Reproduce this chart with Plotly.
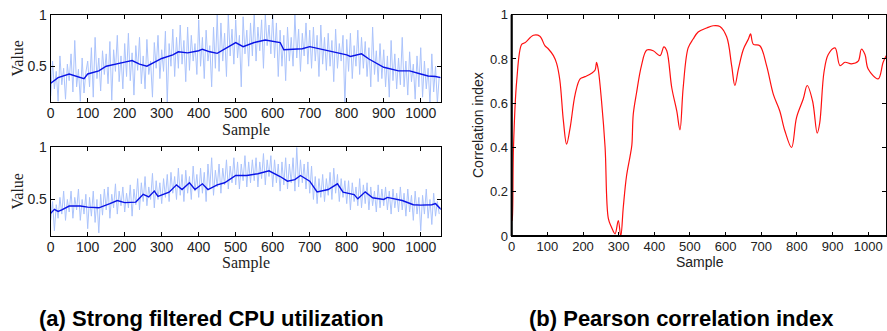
import plotly.graph_objects as go

# ---------------- data ----------------
raw_x = list(range(0, 1051, 5))

top_raw = [
    0.21, 0.55, 0.28, 0.45, 0.16, 0.60, 0.32, 0.48, 0.18, 0.52,
    0.36, 0.62, 0.25, 0.75, 0.30, 0.47, 0.16, 0.58, 0.24, 0.44,
    0.55, 0.30, 0.68, 0.20, 0.78, 0.38, 0.58, 0.26, 0.65, 0.42,
    0.62, 0.33, 0.74, 0.17, 0.66, 0.45, 0.80, 0.35, 0.60, 0.28,
    0.72, 0.40, 0.82, 0.36, 0.63, 0.22, 0.70, 0.46, 0.78, 0.33,
    0.60, 0.28, 0.76, 0.42, 0.55, 0.20, 0.73, 0.48, 0.80, 0.38,
    0.66, 0.45, 0.84, 0.14, 0.72, 0.50, 0.86, 0.40, 0.78, 0.48,
    0.90, 0.52, 0.75, 0.35, 0.88, 0.46, 0.80, 0.55, 0.72, 0.42,
    0.95, 0.50, 0.78, 0.38, 0.85, 0.55, 0.70, 0.30, 0.88, 0.48,
    1.00, 0.45, 0.92, 0.55, 0.82, 0.40, 1.00, 0.60, 0.86, 0.52,
    0.95, 0.58, 0.80, 0.30, 0.98, 0.62, 0.85, 0.50, 0.92, 0.60,
    1.00, 0.55, 0.88, 0.65, 0.95, 0.48, 1.00, 0.70, 0.90, 0.62,
    1.00, 0.58, 0.92, 0.40, 0.85, 0.50, 0.80, 0.36, 0.88, 0.55,
    0.78, 0.50, 1.00, 0.58, 0.86, 0.45, 0.82, 0.60, 0.92, 0.52,
    0.85, 0.48, 0.88, 0.55, 0.80, 0.40, 0.90, 0.52, 0.78, 0.46,
    0.82, 0.50, 0.75, 0.35, 0.86, 0.48, 0.72, 0.55, 0.80, 0.12,
    0.76, 0.45, 0.82, 0.38, 0.70, 0.50, 0.85, 0.42, 0.78, 0.48,
    0.74, 0.40, 0.68, 0.30, 0.88, 0.42, 0.65, 0.35, 0.72, 0.38,
    0.66, 0.30, 0.60, 0.20, 0.75, 0.36, 0.62, 0.28, 0.58, 0.32,
    0.78, 0.30, 0.55, 0.22, 0.64, 0.35, 0.52, 0.18, 0.60, 0.30,
    0.68, 0.20, 0.55, 0.28, 0.48, 0.13, 0.62, 0.25, 0.50, 0.14,
    0.40,
]

top_smooth_x = [0, 20, 50, 90, 100, 130, 150, 180, 200, 220, 240, 260, 300, 330,
                345, 370, 400, 410, 430, 450, 470, 500, 520, 550, 580, 600, 620,
                630, 680, 700, 740, 770, 800, 810, 840, 860, 900, 940, 970, 1000,
                1020, 1040, 1054]
top_smooth = [0.335, 0.39, 0.425, 0.38, 0.425, 0.455, 0.50, 0.52, 0.54, 0.555,
              0.52, 0.50, 0.575, 0.61, 0.64, 0.63, 0.65, 0.665, 0.64, 0.625,
              0.67, 0.73, 0.69, 0.73, 0.755, 0.74, 0.73, 0.66, 0.67, 0.69,
              0.66, 0.635, 0.61, 0.595, 0.62, 0.57, 0.49, 0.455, 0.455, 0.425,
              0.405, 0.40, 0.39]

bottom_raw = [
    0.30, 0.48, 0.20, 0.45, 0.32, 0.52, 0.36, 0.58, 0.30, 0.50,
    0.38, 0.58, 0.32, 0.52, 0.40, 0.60, 0.30, 0.50, 0.36, 0.55,
    0.22, 0.52, 0.34, 0.58, 0.28, 0.50, 0.18, 0.55, 0.35, 0.60,
    0.40, 0.62, 0.32, 0.55, 0.42, 0.65, 0.36, 0.58, 0.44, 0.62,
    0.38, 0.56, 0.42, 0.64, 0.34, 0.60, 0.45, 0.70, 0.40, 0.66,
    0.48, 0.72, 0.44, 0.62, 0.50, 0.75, 0.42, 0.68, 0.50, 0.66,
    0.46, 0.70, 0.52, 0.74, 0.48, 0.76, 0.56, 0.72, 0.50, 0.80,
    0.54, 0.74, 0.48, 0.78, 0.56, 0.72, 0.50, 0.82, 0.58, 0.74,
    0.52, 0.80, 0.56, 0.76, 0.48, 0.84, 0.60, 0.90, 0.54, 0.78,
    0.62, 0.84, 0.56, 0.80, 0.64, 0.88, 0.60, 0.82, 0.66, 0.90,
    0.64, 0.86, 0.60, 0.84, 0.68, 0.92, 0.62, 0.86, 0.66, 0.88,
    0.68, 0.90, 0.62, 0.86, 0.70, 0.94, 0.64, 0.88, 0.72, 0.92,
    0.62, 0.88, 0.66, 0.84, 0.58, 0.86, 0.64, 0.90, 0.60, 0.84,
    0.66, 0.90, 0.58, 1.00, 0.62, 0.88, 0.66, 0.84, 0.60, 0.86,
    0.56, 0.82, 0.50, 0.72, 0.46, 0.70, 0.52, 0.74, 0.48, 0.70,
    0.54, 0.76, 0.50, 0.80, 0.56, 0.74, 0.48, 0.70, 0.52, 0.68,
    0.46, 0.68, 0.40, 0.66, 0.48, 0.62, 0.44, 0.70, 0.42, 0.64,
    0.46, 0.66, 0.40, 0.62, 0.44, 0.58, 0.38, 0.64, 0.42, 0.60,
    0.44, 0.62, 0.40, 0.58, 0.36, 0.60, 0.42, 0.56, 0.38, 0.62,
    0.40, 0.56, 0.34, 0.60, 0.38, 0.54, 0.30, 0.58, 0.36, 0.52,
    0.20, 0.54, 0.36, 0.60, 0.32, 0.50, 0.26, 0.56, 0.34, 0.48,
    0.36,
]

bottom_smooth_x = [0, 10, 20, 30, 50, 80, 100, 130, 160, 180, 200, 230, 250, 265,
                   280, 290, 320, 340, 355, 375, 390, 410, 425, 450, 470, 500,
                   530, 560, 590, 620, 640, 660, 675, 700, 720, 750, 775, 790,
                   820, 830, 850, 870, 900, 910, 950, 980, 1000, 1030, 1040, 1055]
bottom_smooth = [0.367, 0.405, 0.386, 0.40, 0.437, 0.437, 0.427, 0.42, 0.46, 0.49,
                 0.47, 0.475, 0.55, 0.525, 0.58, 0.53, 0.57, 0.64, 0.595, 0.66,
                 0.595, 0.65, 0.595, 0.64, 0.66, 0.73, 0.73, 0.747, 0.775, 0.72,
                 0.675, 0.69, 0.73, 0.675, 0.573, 0.595, 0.65, 0.57, 0.547, 0.506,
                 0.573, 0.516, 0.50, 0.52, 0.49, 0.45, 0.446, 0.45, 0.46, 0.405]

corr_x = [0, 2, 5, 14, 28, 37, 61, 79, 93, 103, 117, 126, 135, 145, 154, 164, 178,
          192, 206, 224, 234, 238, 243, 252, 262, 271, 280, 290, 299, 306, 313,
          322, 332, 337, 341, 350, 364, 379, 397, 416, 427, 435, 449, 463, 472,
          481, 495, 509, 523, 547, 565, 584, 603, 617, 626, 636, 650, 664, 670,
          678, 696, 715, 734, 752, 766, 785, 799, 818, 829, 844, 857, 864, 876,
          888, 907, 921, 935, 953, 972, 981, 991, 1000, 1028, 1042, 1051]
corr = [0.10, 0.07, 0.40, 0.70, 0.866, 0.873, 0.907, 0.903, 0.86, 0.845, 0.815,
        0.78, 0.705, 0.52, 0.415, 0.49, 0.64, 0.71, 0.72, 0.735, 0.75, 0.785,
        0.75, 0.61, 0.40, 0.08, 0.04, 0.01, 0.07, 0.0, 0.13, 0.27, 0.36, 0.41,
        0.55, 0.645, 0.77, 0.84, 0.837, 0.815, 0.855, 0.837, 0.67, 0.565, 0.48,
        0.67, 0.85, 0.89, 0.922, 0.94, 0.95, 0.947, 0.90, 0.77, 0.68, 0.755,
        0.844, 0.89, 0.913, 0.866, 0.86, 0.77, 0.64, 0.565, 0.477, 0.40, 0.535,
        0.62, 0.68, 0.61, 0.465, 0.51, 0.74, 0.82, 0.85, 0.77, 0.785, 0.778,
        0.79, 0.844, 0.82, 0.755, 0.71, 0.785, 0.815]

x_ticks = [0, 100, 200, 300, 400, 500, 600, 700, 800, 900, 1000]
left_y_ticks = [0.5, 1]
left_y_ticktext = ["0.5", "1"]
right_y_ticks = [0, 0.2, 0.4, 0.6, 0.8, 1]
right_y_ticktext = ["0", "0.2", "0.4", "0.6", "0.8", "1"]

caption_a = "(a) Strong filtered CPU utilization"
caption_b = "(b) Pearson correlation index"

# ---------------- figure ----------------
W, H = 887, 331
LIGHT = "#abc3fb"
DARK = "#0a14e6"

fig = go.Figure()
fig.add_trace(go.Scatter(x=raw_x, y=top_raw, mode="lines",
                         line=dict(color=LIGHT, width=1), xaxis="x", yaxis="y"))
fig.add_trace(go.Scatter(x=top_smooth_x, y=top_smooth, mode="lines",
                         line=dict(color=DARK, width=1.4), xaxis="x", yaxis="y"))
fig.add_trace(go.Scatter(x=raw_x, y=bottom_raw, mode="lines",
                         line=dict(color=LIGHT, width=1), xaxis="x2", yaxis="y2"))
fig.add_trace(go.Scatter(x=bottom_smooth_x, y=bottom_smooth, mode="lines",
                         line=dict(color=DARK, width=1.4), xaxis="x2", yaxis="y2"))
fig.add_trace(go.Scatter(x=corr_x, y=corr, mode="lines", line_shape="spline",
                         line=dict(color="#ff1010", width=1.2), xaxis="x3", yaxis="y3"))

def px_x(p):
    return p / W

def px_y(p):
    return 1 - p / H

tick_font_l = dict(family="Liberation Sans, Arial", size=14, color="#222")
tick_font_r = dict(family="Liberation Sans, Arial", size=13, color="#222")

common_x = dict(showgrid=False, zeroline=False, showline=True, linecolor="black",
                linewidth=1, mirror="allticks", ticks="inside", ticklen=4,
                tickcolor="black", tickvals=x_ticks, automargin=False,
                ticklabelstandoff=-2)
common_y = dict(showgrid=False, zeroline=False, showline=True, linecolor="black",
                linewidth=1, mirror="allticks", ticks="inside", ticklen=4,
                tickcolor="black", automargin=False)

fig.update_layout(
    width=W, height=H, margin=dict(l=0, r=0, t=0, b=0, autoexpand=False),
    paper_bgcolor="white", plot_bgcolor="white", showlegend=False,
    xaxis=dict(**common_x, domain=[px_x(50.7), px_x(440.7)], range=[0, 1054],
               anchor="y", tickfont=tick_font_l),
    yaxis=dict(**common_y, domain=[px_y(102.3), px_y(14.7)], range=[0.15, 1], anchor="x",
               tickvals=left_y_ticks, ticktext=left_y_ticktext, tickfont=tick_font_l),
    xaxis2=dict(**common_x, domain=[px_x(50.7), px_x(440.7)], range=[0, 1054],
                anchor="y2", tickfont=tick_font_l),
    yaxis2=dict(**common_y, domain=[px_y(236), px_y(147.3)], range=[0.15, 1], anchor="x2",
                tickvals=left_y_ticks, ticktext=left_y_ticktext, tickfont=tick_font_l),
    xaxis3=dict(**common_x, domain=[px_x(511.7), px_x(886)], range=[0, 1050],
                anchor="y3", tickfont=tick_font_r),
    yaxis3=dict(**common_y, domain=[px_y(236), px_y(14.7)], range=[0, 1], anchor="x3",
                tickvals=right_y_ticks, ticktext=right_y_ticktext, tickfont=tick_font_r),
)

# thicker left/bottom axis lines for the right panel
fig.add_shape(type="line", xref="x3 domain", yref="y3 domain", x0=0, x1=0, y0=0, y1=1,
              line=dict(color="black", width=2.2))
fig.add_shape(type="line", xref="x3 domain", yref="y3 domain", x0=0, x1=1, y0=0, y1=0,
              line=dict(color="black", width=2.2))

serif = dict(family="Liberation Serif, Times New Roman", size=16, color="#222")
sans = dict(family="Liberation Sans, Arial", size=14, color="#222")

ann = [
    dict(text="Value", x=px_x(17), y=px_y(58.5), textangle=-90, font=serif),
    dict(text="Sample", x=px_x(245.7), y=px_y(129.5), font=serif),
    dict(text="Value", x=px_x(17), y=px_y(191.5), textangle=-90, font=serif),
    dict(text="Sample", x=px_x(245.7), y=px_y(262.5), font=serif),
    dict(text="Correlation index", x=px_x(478), y=px_y(125), textangle=-90, font=sans),
    dict(text="Sample", x=px_x(700), y=px_y(261.5), font=sans),
    dict(text="<b>" + caption_a + "</b>", x=px_x(211), y=px_y(318),
         font=dict(family="Liberation Sans, Arial", size=22, color="black")),
    dict(text="<b>" + caption_b + "</b>", x=px_x(681), y=px_y(318),
         font=dict(family="Liberation Sans, Arial", size=22, color="black")),
]
for a in ann:
    fig.add_annotation(xref="paper", yref="paper", showarrow=False,
                       xanchor="center", yanchor="middle", **a)

fig.write_html("out.html", config={"displayModeBar": False},
               post_script="document.body.style.margin='0px';document.body.style.overflow='hidden';")
